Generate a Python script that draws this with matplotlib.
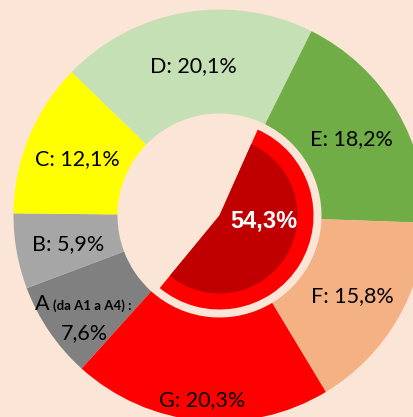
import matplotlib.pyplot as plt
import numpy as np

# outer ring: share of each class
classes = ['A', 'B', 'C', 'D', 'E', 'F', 'G']
shares = [7.6, 5.9, 12.1, 20.1, 18.2, 15.8, 20.3]
ring_colors = ['#808080', '#A6A6A6', '#FFFF00', '#C5E0B4', '#70AD47', '#F4B183', '#FF0000']

# inner pie: highlighted share
inner_share = 54.3
inner_text = '54,3%'

bg = '#FBE5D6'
W, H = 414, 417

# geometry in pixels (axes spans whole figure, 1 unit = 1 px)
cx, cy = 219.5, H - 215.5
r_out, r_hole = 206, 102
r_ring, r_core = 94, 78

fig = plt.figure(figsize=(W / 100, H / 100), dpi=100, facecolor=bg)
ax = fig.add_axes([0, 0, 1, 1])
ax.set_facecolor(bg)

wedges, _ = ax.pie(shares, colors=ring_colors, startangle=228, counterclock=False,
                   radius=r_out, center=(cx, cy),
                   wedgeprops=dict(width=r_out - r_hole, linewidth=0))

inner = [inner_share, 100 - inner_share]
ax.pie(inner, colors=['#FF0000', 'none'], startangle=66, counterclock=False,
       radius=r_ring, center=(cx, cy), wedgeprops=dict(linewidth=0))
ax.pie(inner, colors=['#C00000', 'none'], startangle=66, counterclock=False,
       radius=r_core, center=(cx, cy), wedgeprops=dict(linewidth=0))

# labels on the ring, most at mid ring, G and A pushed outward
label_r = {'G': 183, 'A': 169}
font = 'Lato'
for w, lab, val in zip(wedges, classes, shares):
    ang = np.deg2rad((w.theta1 + w.theta2) / 2)
    r = label_r.get(lab, 154)
    x = cx + r * np.cos(ang)
    y = cy + r * np.sin(ang) - 2
    pct = f'{val:.1f}%'.replace('.', ',')
    if lab == 'A':
        x += 5
        ax.text(x - 43, y + 3, 'A', ha='center', va='baseline',
                fontsize=15.5, family=font)
        ax.text(x - 32, y + 3, '(da A1 a A4) :', ha='left', va='baseline',
                fontsize=9.5, family=font, fontweight='bold')
        ax.text(x, y - 20, pct, ha='center', va='center', fontsize=15.5, family=font)
    else:
        ax.text(x, y, f'{lab}: {pct}', ha='center', va='center',
                fontsize=15.5, family=font)

ax.text(cx + 44, cy - 5.5, inner_text, ha='center', va='center', color='white',
        fontsize=17, fontweight='bold', family='Liberation Sans')

ax.set_xlim(0, W)
ax.set_ylim(0, H)
ax.set_aspect('equal')
ax.axis('off')

plt.savefig('out.png', dpi=100, facecolor=bg)
